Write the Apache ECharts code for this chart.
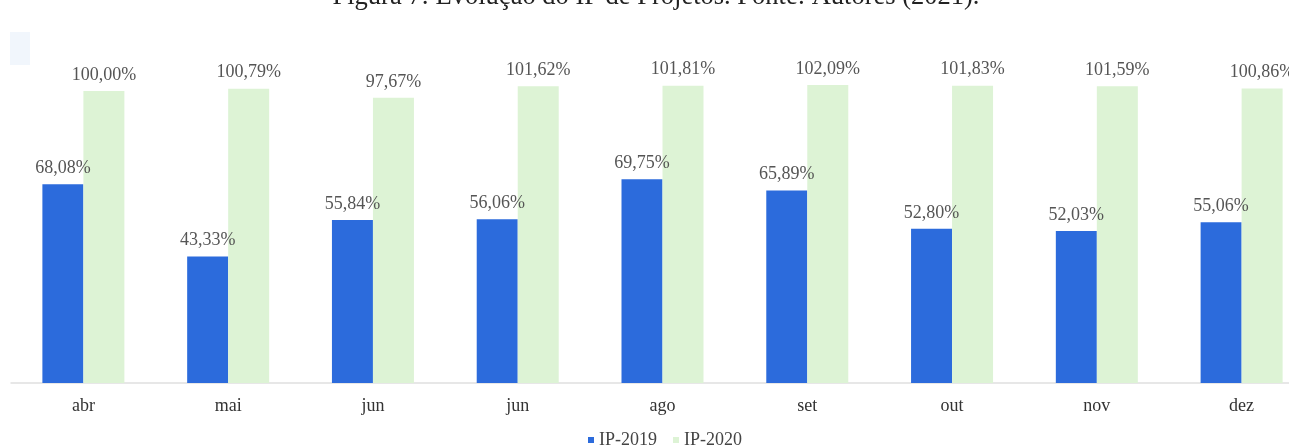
<!DOCTYPE html>
<html>
<head>
<meta charset="utf-8">
<script src="https://cdn.jsdelivr.net/npm/echarts@6/dist/echarts.min.js"></script>
<style>
html,body{margin:0;padding:0;background:#fff;overflow:hidden;}
#chart{width:1289px;height:446px;}
</style>
</head>
<body>
<div id="chart"></div>
<script>
const categories = ['abr', 'mai', 'jun', 'jun', 'ago', 'set', 'out', 'nov', 'dez'];
const ip2019 = [68.08, 43.33, 55.84, 56.06, 69.75, 65.89, 52.80, 52.03, 55.06];
const ip2020 = [100.00, 100.79, 97.67, 101.62, 101.81, 102.09, 101.83, 101.59, 100.86];
const seriesNames = ['IP-2019', 'IP-2020'];
const titleText = 'Figura 7: Evolução do IP de Projetos. Fonte: Autores (2021).';

const fmt = p => p.value.toFixed(2).replace('.', ',') + '%';
const serif = 'Liberation Serif';

const chart = echarts.init(document.getElementById('chart'), null, {renderer: 'canvas'});
chart.setOption({
  animation: false,
  backgroundColor: '#ffffff',
  textStyle: {fontFamily: serif},
  title: {
    text: titleText,
    left: 656, top: -16, padding: 0,
    textAlign: 'center',
    textStyle: {fontFamily: serif, fontSize: 26.5, fontWeight: 'normal', color: '#222'}
  },
  graphic: [{
    type: 'rect', shape: {x: 10, y: 32, width: 20, height: 33},
    style: {fill: '#f1f6fc'}, silent: true
  }],
  legend: {
    data: seriesNames,
    left: 583, top: 426,
    itemWidth: 6, itemHeight: 6, itemGap: 16,
    icon: 'rect',
    textStyle: {fontFamily: serif, fontSize: 18, color: '#444'}
  },
  grid: {left: 11, width: 1303, top: 32.6, bottom: 63, containLabel: false, outerBoundsMode: 'none'},
  xAxis: {
    type: 'category',
    data: categories,
    axisLine: {show: true, lineStyle: {color: '#e0e0e0', width: 1.5}},
    axisTick: {show: false},
    axisLabel: {fontFamily: serif, fontSize: 18, color: '#333', margin: 14}
  },
  yAxis: {
    type: 'value', min: 0, max: 120,
    show: false,
    splitLine: {show: false}
  },
  series: [
    {
      name: seriesNames[0], type: 'bar', data: ip2019,
      barWidth: 41, barGap: '0%',
      itemStyle: {color: '#2c6bdc'},
      label: {show: true, position: 'top', distance: 7, formatter: fmt,
        fontFamily: serif, fontSize: 18, color: '#555'}
    },
    {
      name: seriesNames[1], type: 'bar', data: ip2020,
      barWidth: 41, barGap: '0%',
      itemStyle: {color: '#ddf3d5'},
      label: {show: true, position: 'top', distance: 7, formatter: fmt,
        fontFamily: serif, fontSize: 18, color: '#555'}
    }
  ]
});
</script>
</body>
</html>
